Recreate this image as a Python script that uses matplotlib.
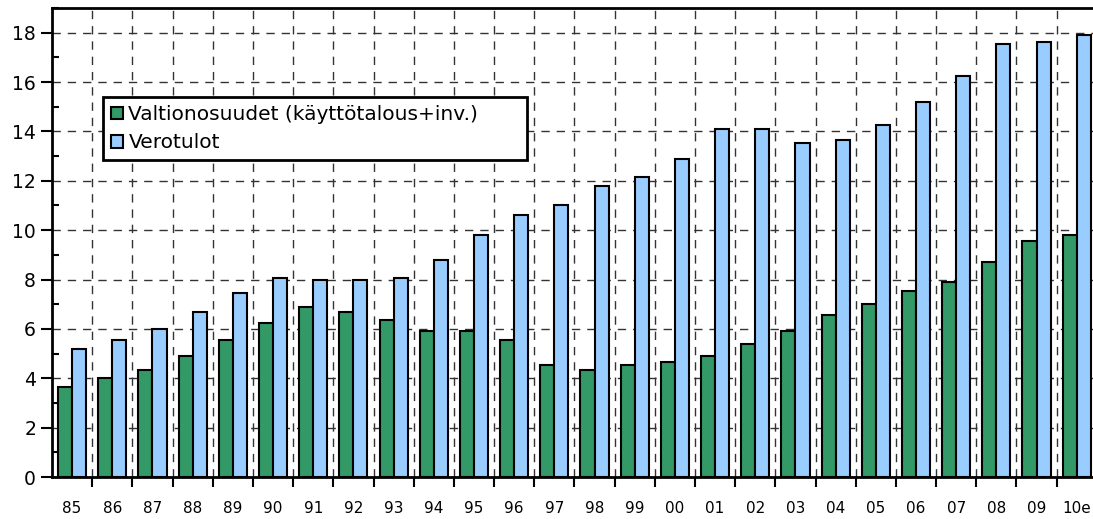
import matplotlib.pyplot as plt
import numpy as np
from matplotlib.ticker import MultipleLocator, FixedLocator

years = ['85', '86', '87', '88', '89', '90', '91', '92', '93', '94', '95', '96', '97',
         '98', '99', '00', '01', '02', '03', '04', '05', '06', '07', '08', '09', '10e']
valtionosuudet = [3.65, 4.0, 4.35, 4.9, 5.55, 6.25, 6.9, 6.7, 6.35, 5.9, 5.9, 5.55, 4.55,
                  4.35, 4.55, 4.65, 4.9, 5.38, 5.9, 6.55, 7.0, 7.55, 7.9, 8.7, 9.55, 9.8]
verotulot = [5.2, 5.55, 6.0, 6.7, 7.45, 8.05, 8.0, 8.0, 8.05, 8.8, 9.8, 10.6, 11.0,
             11.8, 12.15, 12.9, 14.1, 14.1, 13.55, 13.65, 14.27, 15.2, 16.25, 17.55, 17.63, 17.9]

x = np.arange(len(years))
w = 0.35

fig = plt.figure(figsize=(10.93, 5.19), dpi=100)
ax = fig.add_axes([0.0476, 0.0809, 0.9559, 0.9037])

ax.bar(x - w/2, valtionosuudet, w, color='#339966', edgecolor='black', linewidth=1.5,
       label='Valtionosuudet (käyttötalous+inv.)', zorder=3)
ax.bar(x + w/2, verotulot, w, color='#99ccff', edgecolor='black', linewidth=1.5,
       label='Verotulot', zorder=3)

ax.set_xlim(-0.5, len(years) - 0.5)
ax.set_ylim(0, 19)

# category boundaries carry the ticks and vertical grid
ax.xaxis.set_major_locator(FixedLocator(x[:-1] + 0.5))
ax.xaxis.set_minor_locator(FixedLocator(x))
ax.set_xticklabels([])
ax.set_xticklabels(years, minor=True, fontsize=11)
ax.tick_params(axis='x', which='major', direction='out', length=7, width=1.5)
ax.tick_params(axis='x', which='minor', length=0, pad=17)

ax.yaxis.set_major_locator(MultipleLocator(2))
ax.yaxis.set_minor_locator(MultipleLocator(1))
ax.tick_params(axis='y', which='major', direction='out', length=8, width=1.5, labelsize=13.5)
ax.tick_params(axis='y', which='minor', direction='in', length=5, width=1.5)

ax.grid(True, which='major', color='#333333', linestyle=(0, (6, 5)), linewidth=1, zorder=0)

for s in ['left', 'bottom', 'top']:
    ax.spines[s].set_linewidth(2)
ax.spines['right'].set_visible(False)

leg = ax.legend(loc='upper left', bbox_to_anchor=(0.049, 0.5, 0.406, 0.31), mode='expand',
                borderaxespad=0, fontsize=14.5, fancybox=False, framealpha=1,
                edgecolor='black', handlelength=0.6, handleheight=0.6, handletextpad=0.25,
                borderpad=0.4, labelspacing=0.45)
leg.get_frame().set_linewidth(2)
leg.set_zorder(5)

fig.savefig('out.png', dpi=100)
